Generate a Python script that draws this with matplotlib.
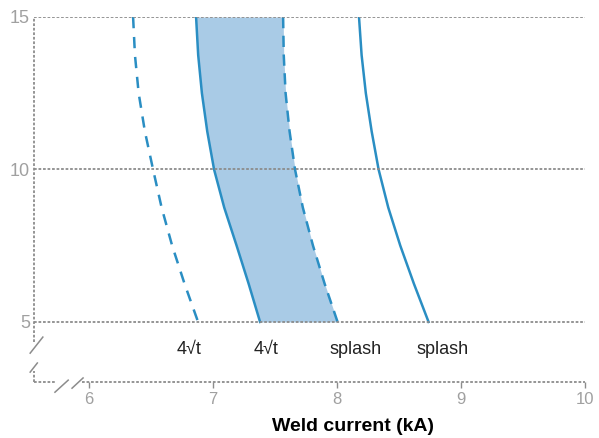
import numpy as np
import matplotlib
matplotlib.use("Agg")
import matplotlib.pyplot as plt

plt.rcParams["font.family"] = ["Liberation Sans", "DejaVu Sans"]

# weld time levels (y) and the current (kA) of each boundary curve
weld_time = [15, 13.75, 12.5, 11.25, 10, 8.75, 7.5, 6.25, 5]
dashed_4rt = [6.355, 6.370, 6.400, 6.450, 6.516, 6.585, 6.670, 6.770, 6.879]
solid_4rt = [6.863, 6.880, 6.910, 6.953, 7.008, 7.090, 7.190, 7.287, 7.379]
dashed_splash = [7.565, 7.570, 7.585, 7.617, 7.661, 7.724, 7.806, 7.900, 8.004]
solid_splash = [8.177, 8.198, 8.232, 8.279, 8.335, 8.413, 8.510, 8.620, 8.738]

x_ticks = [6, 7, 8, 9, 10]
y_ticks = [5, 10, 15]
labels = ["4√t", "4√t", "splash", "splash"]
label_x = [6.81, 7.43, 8.15, 8.85]

blue = "#2a8ec3"
grey = "#8c8c8c"

fig = plt.figure(figsize=(5.99, 4.38), dpi=100)
ax = fig.add_axes([0.0568, 0.1279, 0.9199, 0.8333])

ax.fill_betweenx(weld_time, solid_4rt, dashed_splash, color="#a9cbe6", lw=0)
ax.plot(dashed_4rt, weld_time, color=blue, lw=1.8, ls=(0, (4.5, 3.5)))
ax.plot(solid_4rt, weld_time, color=blue, lw=1.8)
ax.plot(dashed_splash, weld_time, color=blue, lw=1.8, ls=(0, (4.5, 3)))
ax.plot(solid_splash, weld_time, color=blue, lw=1.8)

for y in y_ticks:
    ax.axhline(y, color=grey, lw=1.3, ls=(0, (1.5, 1)), zorder=3)

for lab, x in zip(labels, label_x):
    ax.text(x, 4.1, lab, ha="center", va="center", fontsize=13, color="#222222")

ax.set_xlim(5.556, 10.0)
ax.set_ylim(3.03, 15.0)
ax.set_xticks(x_ticks)
ax.set_yticks(y_ticks)
ax.tick_params(axis="x", colors=grey, labelsize=12, length=4, width=1, pad=3)
ax.tick_params(axis="y", colors=grey, labelsize=13, length=0, pad=3)
for t in ax.get_xticklabels() + ax.get_yticklabels():
    t.set_color("#a0a0a0")

for s in ["top", "right", "left", "bottom"]:
    ax.spines[s].set_visible(False)

# axes with breaks (drawn in axes fraction)
tr = ax.transAxes
kw = dict(color=grey, lw=1.3, ls=(0, (1.5, 1)), transform=tr, clip_on=False)
ax.plot([0, 0], [0.11, 1.0], **kw)
ax.plot([0, 0], [0.0, 0.03], **kw)
ax.plot([0, 0.04], [0, 0], **kw)
ax.plot([0.087, 1.0], [0, 0], **kw)
bk = dict(color=grey, lw=1.1, transform=tr, clip_on=False)
ax.plot([-0.007, 0.016], [0.079, 0.123], **bk)
ax.plot([-0.007, 0.006], [0.027, 0.052], **bk)
ax.plot([0.038, 0.062], [-0.028, 0.005], **bk)
ax.plot([0.069, 0.089], [-0.017, 0.011], **bk)

ax.set_xlabel("Weld current (kA)", fontsize=14, fontweight="bold")
ax.xaxis.set_label_coords(0.579, -0.099)

fig.savefig("out.png", dpi=100)
